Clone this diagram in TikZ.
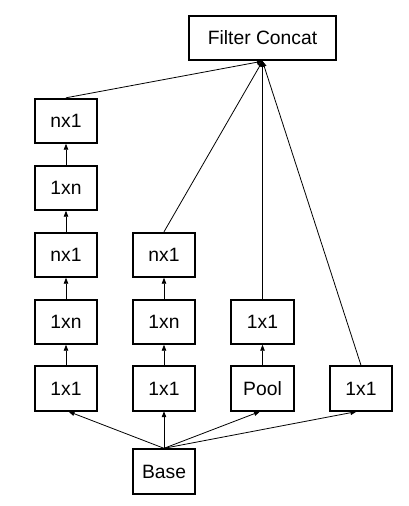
\documentclass[tikz,border=0pt]{standalone}
\usepackage{fontspec}
\setmainfont{Liberation Sans}
\usetikzlibrary{arrows.meta}
\begin{document}
\begin{tikzpicture}[x=1pt,y=-1pt,
  box/.style={draw,line width=1.9pt,minimum width=62.5pt,minimum height=44.5pt,inner sep=0pt,font=\fontsize{19.3}{21}\selectfont},
  conn/.style={line width=0.8pt,-{Triangle[length=6pt,width=4.5pt]},shorten >=-0.5pt}]
\useasboundingbox (0,0) rectangle (409,506);
\node[box,minimum width=147.5pt] (cc) at (262.5,38) {Filter Concat};
\node[box] (a5) at (66,121) {nx1};
\node[box] (a4) at (66,188) {1xn};
\node[box] (a3) at (66,255) {nx1};
\node[box] (a2) at (66,322) {1xn};
\node[box] (a1) at (66,388.5) {1x1};
\node[box] (b3) at (164,255) {nx1};
\node[box] (b2) at (164,322) {1xn};
\node[box] (b1) at (164,388.5) {1x1};
\node[box] (c2) at (262.5,322) {1x1};
\node[box] (c1) at (262.5,388.5) {Pool};
\node[box] (d1) at (361,388.5) {1x1};
\node[box] (base) at (164,471.5) {Base};
\draw[conn] (a1) -- (a2);
\draw[conn] (a2) -- (a3);
\draw[conn] (a3) -- (a4);
\draw[conn] (a4) -- (a5);
\draw[conn] (b1) -- (b2);
\draw[conn] (b2) -- (b3);
\draw[conn] (c1) -- (c2);
\draw[conn] (a5.north) -- (cc.south);
\draw[conn] (b3.north) -- (cc.south);
\draw[conn] (c2.north) -- (cc.south);
\draw[conn] (d1.north) -- (cc.south);
\draw[conn] (base.north) -- ([xshift=3pt]a1.south);
\draw[conn] (base.north) -- (b1.south);
\draw[conn] (base.north) -- ([xshift=-3pt]c1.south);
\draw[conn] (base.north) -- ([xshift=-5pt]d1.south);
\end{tikzpicture}
\end{document}
